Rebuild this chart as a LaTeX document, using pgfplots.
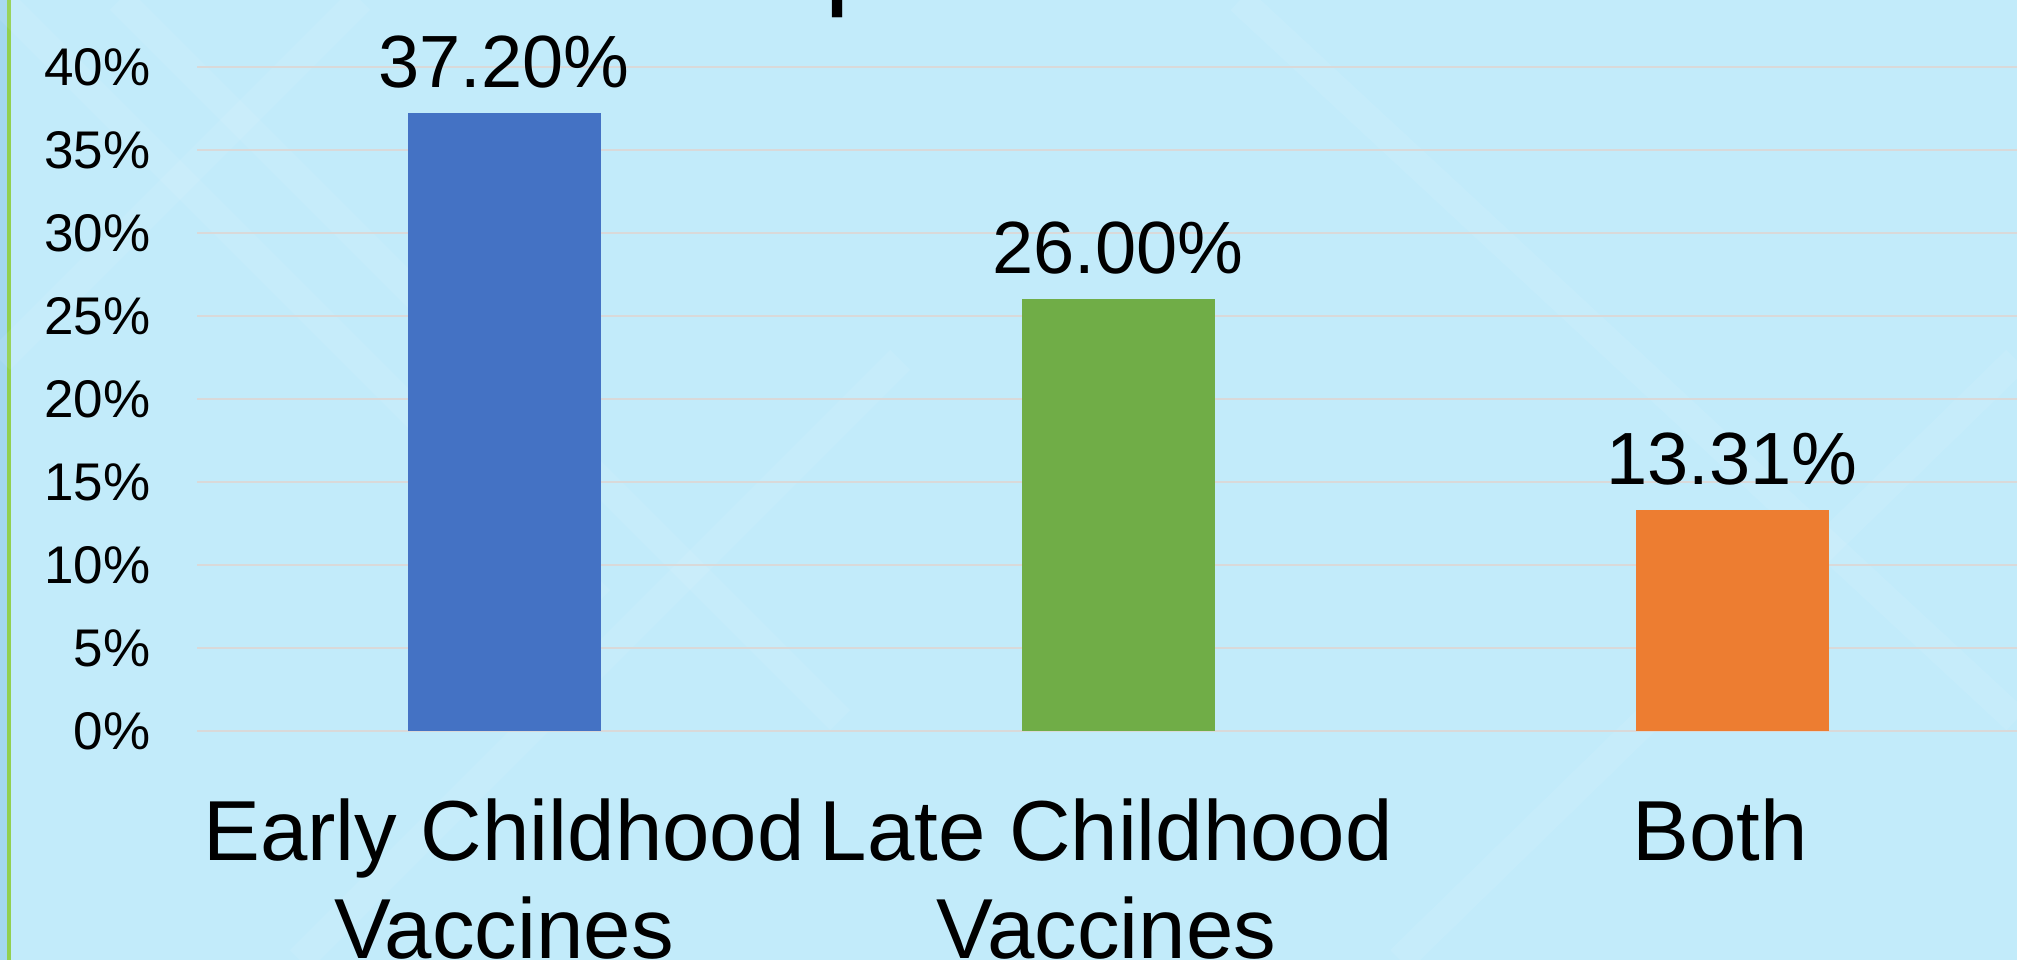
\documentclass[border=0pt]{standalone}
\usepackage{pgfplots}
\pgfplotsset{compat=1.18}
\usepackage{fontspec}
\setmainfont{Liberation Sans}
\definecolor{bgblue}{RGB}{194,235,250}
\definecolor{stripblue}{RGB}{163,216,240}
\definecolor{edgegreen}{RGB}{146,208,80}
\definecolor{gridgray}{RGB}{217,217,217}
\definecolor{cblue}{RGB}{68,114,196}
\definecolor{cgreen}{RGB}{112,173,71}
\definecolor{corange}{RGB}{237,125,49}
\begin{document}
\begin{tikzpicture}
\useasboundingbox (0,0) rectangle (1008.5pt,480pt);
\fill[bgblue] (0,0) rectangle (1008.5pt,480pt);
\fill[stripblue] (0,0) rectangle (3.5pt,480pt);
\fill[edgegreen] (3.5pt,0) rectangle (5.5pt,480pt);
% faint lattice
\begin{scope}[white, opacity=0.07, line width=14pt]
\draw (0pt,480pt) -- (300pt,180pt);
\draw (60pt,480pt) -- (420pt,120pt);
\draw (0pt,300pt) -- (180pt,480pt);
\draw (150pt,0pt) -- (450pt,300pt);
\draw (620pt,480pt) -- (1008pt,120pt);
\draw (700pt,0pt) -- (1008pt,300pt);
\end{scope}
\node[anchor=base west, inner sep=0pt, font=\fontsize{58.5}{60}\selectfont] at (412pt,483.3pt) {p};
\begin{axis}[
  at={(98.5pt,114.5pt)}, anchor=south west,
  scale only axis, width=921pt, height=332pt,
  xmin=-0.5, xmax=2.5, ymin=0, ymax=40,
  axis line style={draw=none},
  tick style={draw=none},
  /pgf/number format/assume math mode=true,
  ybar, bar width=96.5pt, bar shift=0pt,
  ytick={0,5,...,40},
  ymajorgrids, grid style={gridgray, line width=1pt},
  major tick length=0pt,
  xtick={0,0.981,1.981},
  xticklabels={{Early Childhood\\Vaccines},{Late Childhood\\Vaccines},{Both}},
  xticklabel style={align=center, font=\fontsize{42.6}{49}\selectfont, anchor=north, inner sep=0pt, yshift=-33.5pt},
  yticklabel={\pgfmathprintnumber{\tick}\%},
  yticklabel style={font=\fontsize{26.5}{30}\selectfont, anchor=east, inner sep=0pt, xshift=-23.2pt},
  point meta=explicit symbolic,
  nodes near coords,
  every node near coord/.append style={font=\fontsize{37}{40}\selectfont, anchor=base, inner sep=0pt, yshift=13pt, text=black},
  clip=false,
]
\addplot[fill=cblue, draw=none] coordinates {(0,37.2) [37.20\%]};
\addplot[fill=cgreen, draw=none] coordinates {(1,26.0) [26.00\%]};
\addplot[fill=corange, draw=none] coordinates {(2,13.31) [13.31\%]};
\end{axis}
\end{tikzpicture}
\end{document}
